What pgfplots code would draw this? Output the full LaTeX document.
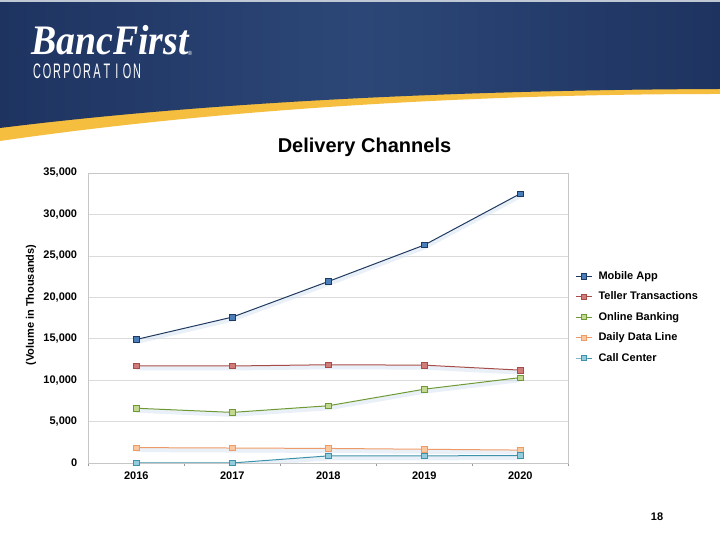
\documentclass[border=0pt]{standalone}
\usepackage{pgfplots}
\pgfplotsset{compat=1.18}
\usepackage{pgfplotstable}
\usepackage{fontspec}
\setmainfont{Liberation Sans}
\newfontfamily\logofont{Liberation Serif}

\definecolor{navyA}{HTML}{1E3360}
\definecolor{navyB}{HTML}{2C4777}
\definecolor{swoosh}{HTML}{F5BE3E}
\definecolor{mobLine}{HTML}{1F3A60}
\definecolor{mobFill}{HTML}{4A7EBB}
\definecolor{telLine}{HTML}{A64D4A}
\definecolor{telFill}{HTML}{D27C79}
\definecolor{onlLine}{HTML}{6E9A35}
\definecolor{onlFill}{HTML}{C2D98F}
\definecolor{daiLine}{HTML}{EE9A68}
\definecolor{daiFill}{HTML}{FBC79C}
\definecolor{calLine}{HTML}{3D92AB}
\definecolor{calFill}{HTML}{93CDDD}

% volume in thousands
\pgfplotstableread{
x mob tel onl dai cal
0 14900 11700 6600 1850 0
1 17600 11700 6100 1800 0
2 21900 11850 6900 1750 850
3 26300 11800 8900 1650 850
4 32500 11200 10300 1550 900
}\channels

\begin{document}
\begin{tikzpicture}[x=1pt,y=1pt]
  \useasboundingbox (0,0) rectangle (720,540);
  \fill[white] (0,0) rectangle (720,540);

  % banner
  \fill[swoosh] (0,399) .. controls (200,428) and (450,446) .. (720,446)
    -- (720,540) -- (0,540) -- cycle;
  \shade[left color=navyA, right color=navyA, middle color=navyB]
    (0,412) .. controls (200,437) and (450,450) .. (720,451)
    -- (720,540) -- (0,540) -- cycle;
  \fill[white!70!navyB] (0,538) rectangle (720,540);

  % logo
  \node[anchor=base west, inner sep=0, text=white, xscale=0.9,
        font=\logofont\bfseries\itshape\fontsize{42}{42}\selectfont]
    at (31,485) {BancFirst};
  \node[text=white, inner sep=0, font=\fontsize{6}{6}\selectfont] at (190,487) {\textregistered};
  \foreach \c [count=\i from 0] in {C,O,R,P,O,R,A,T,I,O,N}
    \node[anchor=base, inner sep=0, text=white, xscale=0.52,
          font=\fontsize{21}{21}\selectfont] at (37+\i*10.0,461) {\c};

  % title and page number
  \node[font=\bfseries\fontsize{20}{24}\selectfont] at (364.5,393) {Delivery Channels};
  \node[font=\bfseries\fontsize{11}{13}\selectfont] at (657,23) {18};
  \node[rotate=90, font=\bfseries\fontsize{11}{13}\selectfont] at (31,235) {(Volume in Thousands)};

  \begin{axis}[
      at={(92,93)}, anchor=south west,
      scale only axis, width=480pt, height=290pt,
      xmin=-0.5, xmax=4.5, ymin=0, ymax=35000,
      xtick={0,1,2,3,4},
      xticklabels={2016,2017,2018,2019,2020},
      minor xtick={-0.5,0.5,1.5,2.5,3.5,4.5},
      ytick={0,5000,...,35000},
      xtick pos=bottom, ytick pos=left,
      major tick length=0pt,
      minor tick length=3.5pt,
      tick align=outside,
      minor tick style={gray!80},
      ymajorgrids, grid style={gray!28},
      axis line style={gray!45},
      scaled y ticks=false,
      /pgf/number format/1000 sep={,},
      /pgf/number format/assume math mode=true,
      tick label style={font=\bfseries\fontsize{11}{13}\selectfont},
      yticklabel style={inner sep=0pt, xshift=-11pt},
      xticklabel style={inner sep=0pt, yshift=-9pt},
      legend style={draw=none, fill=none, at={(1,0.503)}, anchor=west,
        xshift=7pt, font=\bfseries\fontsize{11}{13}\selectfont,
        row sep=7pt, inner sep=0pt,
        /tikz/every odd column/.append style={column sep=4pt}},
      legend cell align=left,
      legend image code/.code={
        \draw[mark repeat=2, mark phase=2, #1]
          plot coordinates {(0pt,0pt) (8pt,0pt) (16pt,0pt)};},
      every axis plot/.append style={line width=1pt, mark size=2.7pt}
    ]
    % soft shadows under the lines
    \pgfplotsinvokeforeach{mob,tel,onl,dai,cal}{
      \addplot[forget plot, no marks, line width=4pt, color=mobFill!25, opacity=0.45, yshift=-2.5pt]
        table[x=x, y=#1] {\channels};
    }
    \addplot[mobLine, mark=square*, mark options={fill=mobFill, draw=mobLine, line width=0.6pt}]
      table[x=x, y=mob] {\channels};
    \addplot[telLine, mark=square*, mark options={fill=telFill, draw=telLine, line width=0.6pt}]
      table[x=x, y=tel] {\channels};
    \addplot[onlLine, mark=square*, mark options={fill=onlFill, draw=onlLine, line width=0.6pt}]
      table[x=x, y=onl] {\channels};
    \addplot[daiLine, mark=square*, mark options={fill=daiFill, draw=daiLine, line width=0.6pt}]
      table[x=x, y=dai] {\channels};
    \addplot[calLine, mark=square*, mark options={fill=calFill, draw=calLine, line width=0.6pt}]
      table[x=x, y=cal] {\channels};
    \legend{Mobile App, Teller Transactions, Online Banking, Daily Data Line, Call Center}
    \draw[gray!75!black, line width=0.8pt] (rel axis cs:0,0) -- (rel axis cs:1,0);
  \end{axis}
\end{tikzpicture}
\end{document}
